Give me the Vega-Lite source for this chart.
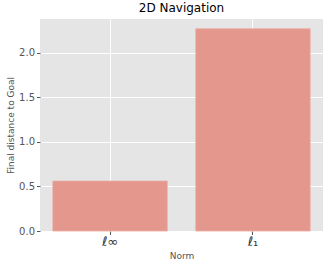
{
  "$schema": "https://vega.github.io/schema/vega-lite/v6.json",
  "width": 283,
  "height": 212,
  "autosize": {"type": "none"},
  "padding": {"left": 40, "top": 19, "right": 9, "bottom": 36},
  "background": "white",
  "title": {"text": "2D Navigation", "font": "DejaVu Sans", "fontSize": 12, "fontWeight": "normal", "color": "black", "offset": 4, "anchor": "middle"},
  "data": {"values": [
    {"norm": "ℓ∞", "distance": 0.56},
    {"norm": "ℓ₁", "distance": 2.27}
  ]},
  "mark": {"type": "bar", "color": "#E4978C", "stroke": "#EBA89E", "strokeWidth": 0.8},
  "encoding": {
    "x": {"field": "norm", "type": "nominal", "sort": null,
      "scale": {"paddingInner": 0.2, "paddingOuter": 0.09},
      "axis": {"title": "Norm", "labelAngle": 0, "labelFontSize": 13, "labelFont": "DejaVu Sans", "labelColor": "#333", "titleFontSize": 9, "titleFont": "DejaVu Sans", "titleFontWeight": "normal", "titleColor": "#555", "titlePadding": 3, "tickColor": "#555", "tickSize": 3.5, "domain": false, "grid": true, "gridColor": "white", "gridWidth": 1, "labelPadding": 1, "bandPosition": 0.5}},
    "y": {"field": "distance", "type": "quantitative",
      "scale": {"domain": [0, 2.38], "nice": false, "zero": true},
      "axis": {"title": "Final distance to Goal", "values": [0, 0.5, 1, 1.5, 2], "format": ".1f", "labelFontSize": 10, "labelFont": "DejaVu Sans", "labelColor": "#555", "titleFontSize": 9, "titleFont": "DejaVu Sans", "titleFontWeight": "normal", "titleColor": "#555", "titlePadding": 3, "tickColor": "#555", "tickSize": 3.5, "domain": false, "gridColor": "white", "gridWidth": 1, "labelPadding": 2}}
  },
  "config": {"view": {"fill": "#E5E5E5", "stroke": null}}
}
